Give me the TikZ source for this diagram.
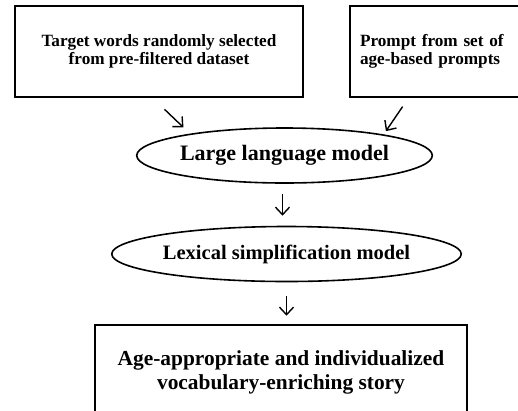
\documentclass[tikz,border=0pt]{standalone}
\usepackage{fontspec}
\setmainfont{Liberation Serif}
\usetikzlibrary{arrows.meta,shapes.geometric}

\begin{document}
\begin{tikzpicture}[x=1pt, y=-1pt, line width=1.6pt,
		inbox/.style={draw, rectangle, inner sep=0pt, font=\fontsize{17.2}{18.5}\selectfont\bfseries},
		model/.style={draw, ellipse, inner sep=0pt, font=\fontsize{22}{24}\selectfont\bfseries},
		arr/.style={-{Straight Barb[length=7.5pt,width=14pt]}, line width=1.4pt}]
			%%%%% START %%%%%
			\useasboundingbox (0, 0) rectangle (518, 410);
			\clip (0, 0) rectangle (518, 410);
			
			\node[inbox, align=center, minimum width=288, minimum height=90.5] (words) at (159, 51.5) {Target words randomly selected\\from pre-filtered dataset};
			\node[inbox, align=left, text width=160, minimum width=180, minimum height=90.5] (prompt) at (440, 51.5) {Prompt from set of\\age-based prompts};
			
			\node[model, minimum width=259, minimum height=55] (llm) at (284.5, 155.5) {Large language model};
			\node[model, font=\fontsize{20.5}{24}\selectfont\bfseries, minimum width=283, minimum height=55] (lsm) at (286.5, 254) {Lexical simplification model};
			
			\node[inbox, align=center, font=\fontsize{21.4}{24}\selectfont\bfseries, minimum width=372, minimum height=94] (story) at (281, 372) {Age-appropriate and individualized\\vocabulary-enriching story};
			
			\draw[arr, shorten <=17pt, shorten >=9pt] ([xshift=-6.8pt]words.south) -- (llm.167);
			\draw[arr, shorten <=11pt, shorten >=4pt] ([xshift=-31.2pt]prompt.south) -- (llm.12);
			\draw[arr, shorten <=10pt, shorten >=10pt] ([xshift=-2pt]llm.south) -- ([xshift=-4pt]lsm.north);
			\draw[arr, shorten <=13.5pt, shorten >=8.5pt] (lsm.south) -- (lsm.south |- story.north);
			%%%%% END %%%%%
\end{tikzpicture}
\end{document}
